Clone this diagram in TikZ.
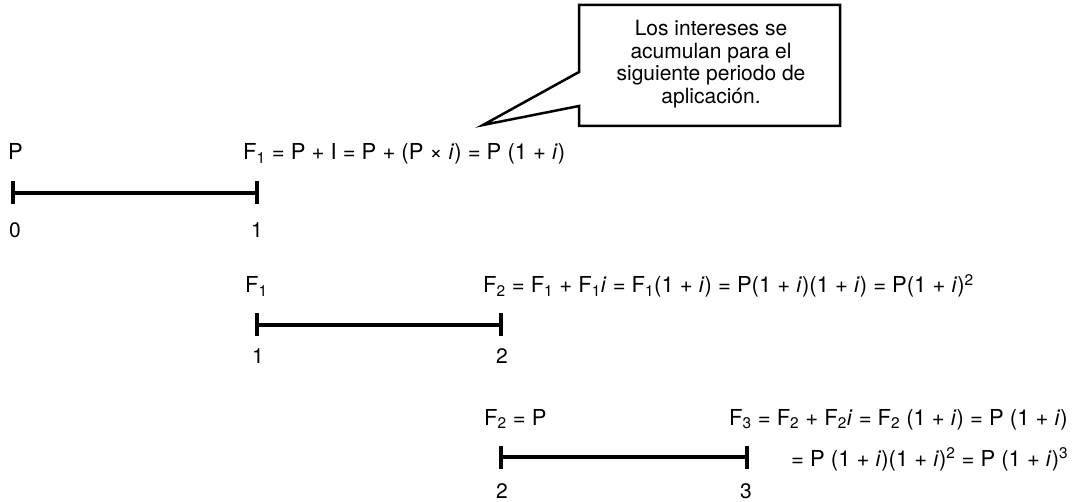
\documentclass[tikz,border=0pt]{standalone}
\usepackage{fontspec}
\setmainfont{TeX Gyre Heros}
\newcommand{\ii}{\textit{i}}
\newcommand{\sub}[1]{\textsubscript{#1}}
\newcommand{\sups}[1]{\textsuperscript{#1}}
\begin{document}
\begin{tikzpicture}[x=1pt,y=-1pt,
  tline/.style={line width=3.8pt},
  tickmark/.style={line width=3.5pt},
  txt/.style={anchor=base west, inner sep=0pt, font=\fontsize{22}{26}\selectfont},
  num/.style={anchor=base, inner sep=0pt, font=\fontsize{21}{25}\selectfont},
  callout/.style={draw, line width=2.5pt, line join=miter, fill=white},
  ctext/.style={align=center, inner sep=0pt, font=\fontsize{21}{22.5}\selectfont}]
\useasboundingbox (0,0) rectangle (1084,502);
% timelines
\foreach \n/\xa/\xb/\y in {a/13/257/193, b/257/501/325, c/501/747/457}{
  \coordinate (\n0) at (\xa,\y);
  \coordinate (\n1) at (\xb,\y);
  \draw[tline] (\n0) -- (\n1);
  \draw[tickmark] ([yshift=11.5pt]\n0) -- ([yshift=-11.5pt]\n0);
  \draw[tickmark] ([yshift=11.5pt]\n1) -- ([yshift=-11.5pt]\n1);
}
% row 1
\node[txt] (p) at (8,160) {P};
\node[num] (n0) at (15,238) {0};
\node[num] (n1) at (257,238) {1};
\node[txt] (f1) at (243,160) {F\sub{1} = P + I = P + (P × \ii) = P (1 + \ii)};
% row 2
\node[txt] (lf1) at (245,293) {F\sub{1}};
\node[num] (m1) at (258,364) {1};
\node[num] (m2) at (502,364) {2};
\node[txt] (f2) at (483,293) {F\sub{2} = F\sub{1} + F\sub{1}\ii\ = F\sub{1}(1 + \ii) = P(1 + \ii)(1 + \ii) = P(1 + \ii)\sups{2}};
% row 3
\node[txt] (lf2) at (484,425) {F\sub{2} = P};
\node[num] (k2) at (502,498) {2};
\node[num] (k3) at (746,498) {3};
\node[txt] (f3) at (729,425) {F\sub{3} = F\sub{2} + F\sub{2}\ii\ = F\sub{2} (1 + \ii) = P (1 + \ii)};
\node[txt] (f3b) at (791,466) {= P (1 + \ii)(1 + \ii)\sups{2} = P (1 + \ii)\sups{3}};
% callout
\coordinate (tip) at (483,125);
\draw[callout] (579,5) -- (840,5) -- (840,126) -- (579,126) -- (579,106) -- (tip) -- (579,72) -- cycle;
\node[ctext] (note) at (711,64) {Los intereses se\\acumulan para el\\siguiente periodo de\\aplicación.};
\end{tikzpicture}
\end{document}
